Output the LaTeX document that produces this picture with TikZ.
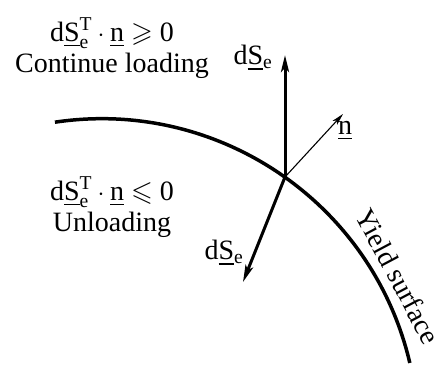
\documentclass[tikz,border=0pt]{standalone}
\usepackage{amssymb}
\usepackage{fontspec}
\setmainfont{Liberation Serif}
\usetikzlibrary{arrows.meta}
\newcommand{\dSe}{d\underline{S}\textsubscript{e}}
\newcommand{\dSeT}{$\mathrm{d}\underline{\mathrm{S}}^{\mathrm{T}}_{\mathrm{e}}\cdot\underline{\mathrm{n}}$}
\begin{document}
\begin{tikzpicture}[x=1pt,y=1pt,
  lbl/.style={font=\fontsize{28}{31}\selectfont, inner sep=0pt, align=center},
  thickarrow/.style={line width=3pt, -{Stealth[length=17pt,width=8pt,inset=4pt]}},
  thinarrow/.style={line width=1.1pt, -{Stealth[length=12pt,width=6pt,inset=3pt]}},
  surf/.style={line width=3.5pt}]
\useasboundingbox (0,0) rectangle (444,367);
\coordinate (C) at (101.7,-68.2);
\coordinate (O) at (285,190);
\coordinate (top) at (285,312);
\coordinate (low) at (243,85);
\coordinate (ntip) at (343,253);
\draw[surf] ([shift={(98.5:316.5)}]C) arc[start angle=98.5, end angle=13.2, radius=316.5];
\draw[thickarrow] (O) -- (top);
\draw[thickarrow] (O) -- (low);
\draw[thinarrow] (O) -- (ntip);
\node[lbl] (t1) at (112,319) {\dSeT\ $\geqslant\mathrm{0}$\\Continue loading};
\node[lbl] (t2) at (112,160) {\dSeT\ $\leqslant\mathrm{0}$\\Unloading};
\node[lbl] (a1) at (253,309) {\dSe};
\node[lbl] (a2) at (224,114) {\dSe};
\node[lbl] (nl) at (345,236) {\underline{n}};
\node[lbl, rotate=-62] (ys) at (398,91) {Yield surface};
\end{tikzpicture}
\end{document}
